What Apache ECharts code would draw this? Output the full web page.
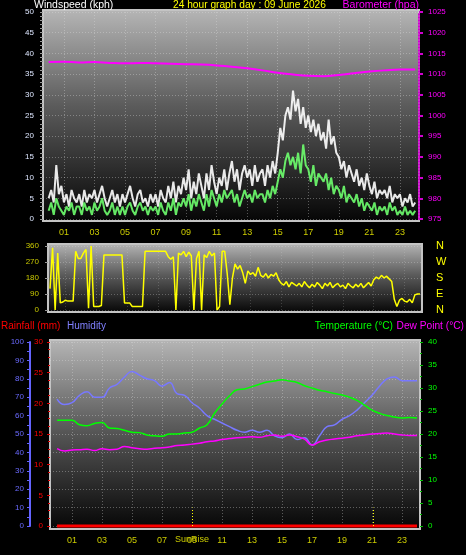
<!DOCTYPE html>
<html><head><meta charset="utf-8">
<script src="https://cdn.jsdelivr.net/npm/echarts@6/dist/echarts.min.js"></script>
<style>html,body{margin:0;padding:0;background:#000;}#c{width:466px;height:555px;}</style>
</head><body><div id="c"></div>
<script>
// ---- data ----
const hourTicks = [1,3,5,7,9,11,13,15,17,19,21,23];
const windStepsPerHour = 6;       // 10-minute samples
const gustKph = [
 5,7,4,13,6,8, 4,6,3,7,5,4, 6,3,7,4,6,5, 7,4,6,8,5,3, 5,7,4,6,3,6, 4,6,8,5,3,6,
 7,4,5,3,6,4, 6,3,7,5,4,8, 5,9,4,8,6,10, 7,12,5,9,6,11, 8,5,11,7,13,9, 6,10,8,12,7,11,
 14,9,12,7,11,13, 10,12,8,13,9,11, 12,8,13,10,14,11, 16,22,19,25,27,24, 31,26,29,23,27,22, 25,21,24,20,23,19,
 21,17,24,18,20,16, 15,12,14,10,13,11, 9,12,8,10,7,11, 8,6,9,5,7,6, 7,5,8,4,6,5, 6,3,5,4,6,3, 4];
const avgKph = [
 2,4,1,5,3,2, 1,3,2,4,1,3, 3,1,4,2,3,1, 4,2,3,5,2,1, 2,4,1,3,1,3, 1,3,4,2,1,3,
 4,2,3,1,3,2, 3,1,4,2,1,4, 2,5,1,4,3,5, 3,6,2,5,3,6, 4,2,6,3,7,5, 3,6,4,7,5,6,
 7,4,6,3,5,7, 5,6,4,7,5,6, 6,4,7,5,8,6, 9,12,10,14,16,13, 15,12,16,11,18,13, 12,9,13,8,11,10,
 9,11,7,10,6,8, 7,5,8,4,6,5, 4,6,3,5,2,4, 3,2,4,1,3,2, 3,1,4,2,3,1, 2,1,3,1,2,1, 2];
const baroHpa = [1012.9,1013.0,1012.8,1012.9,1012.7,1012.6,1012.7,1012.6,1012.5,1012.4,1012.3,1012.1,
 1011.8,1011.4,1010.9,1010.3,1009.9,1009.6,1009.5,1009.8,1010.2,1010.6,1010.9,1011.1,1011.1];
const windDirDeg = [
 120,350,0,320,40,45, 55,50,50,50,330,290, 290,320,340,10,360,20, 20,20,25,310,310,310,
 310,310,310,310,310,40, 40,40,20,20,20,20, 20,330,330,330,330,330, 330,330,330,330,300,285,
 300,0,320,310,330,300, 325,305,0,290,330,0, 310,295,330,305,320,0, 20,330,330,200,30,180,
 260,230,250,210,150,220, 200,210,190,240,195,185, 205,180,200,190,210,170, 150,140,160,130,155,145,
 135,150,130,160,140,125, 145,130,155,140,120,150, 135,155,125,140,150,130, 140,120,150,135,125,145,
 130,150,125,140,155,135, 170,185,175,195,180,190, 175,160,60,20,55,65, 50,45,60,40,85,90, 90];
const climateStepsPerHour = 2;    // half-hour samples
const humidityPct = [69,66,67,71,73,70,70,75,77,81,84,82,80,79,76,78,72,71,67,64,60,58,56,54,52,51,52,51,
 52,49,48,50,47,48,44,49,54,55,58,60,63,67,71,76,80,81,79,79,79];
const temperatureC = [23,23,23,22,21.8,22.3,22.5,21.3,21.2,20.8,20.4,20.3,19.8,19.6,19.5,20,20,20.2,20.4,21.3,
 22,24.5,26.5,28.3,29.6,29.8,30.3,30.8,31.3,31.5,31.8,31.5,31.2,30.5,30,29.5,29.2,28.8,28.5,28,27.3,26.3,
 25.2,24.5,24,23.7,23.5,23.6,23.5];
const dewPointC = [16.8,16.3,16.5,16.6,16.7,16.4,16.8,16.6,16.7,17.3,17,16.8,16.7,16.9,17,17.2,17.5,17.6,17.8,18,
 18.3,18.5,18.8,19,19.2,19.3,19.4,19.3,19.6,19.8,19.5,19.8,19.4,18.9,17.6,18.3,18.7,18.9,19.1,19.3,19.6,19.8,
 20,20.1,20.2,20,19.8,19.7,19.7];
const rainfallMm = [0,0,0,0,0,0,0,0,0,0,0,0,0,0,0,0,0,0,0,0,0,0,0,0,0];
const sunriseHour = 9.0, sunsetHour = 21.1;
const compassLabels = {0:'N',90:'E',180:'S',270:'W',360:'N'};

// ---- build ----
const pad2 = v => (v < 10 ? '0' : '') + v;
const plain = v => String(v);
const toPts = (arr, step) => arr.map((v, i) => [i / step, v]);
const FONT = 'Liberation Sans, Arial, sans-serif';
const dotted = c => ({ show: true, lineStyle: { color: c, type: [1, 2], width: 1 } });
const bgGrad = () => new echarts.graphic.LinearGradient(0, 0, 0, 1, [
  {offset: 0, color: '#b6b6b6'}, {offset: 0.45, color: '#5c5c5c'}, {offset: 1, color: '#050505'}]);
const panel = (x, y, w, h) => ({ type: 'rect', z: -10, shape: {x, y, width: w, height: h},
  style: { fill: bgGrad(), stroke: '#c4c4c4', lineWidth: 2 } });

const chart = echarts.init(document.getElementById('c'), null, {renderer: 'canvas'});
const ttl = (text, pos, top, color, size) => Object.assign({ text, top, padding: 0,
  textStyle: { color, fontSize: size, fontWeight: 'normal', fontFamily: FONT } }, pos);

chart.setOption({
  backgroundColor: '#000',
  animation: false,
  textStyle: { fontFamily: FONT },
  title: [
    ttl('Windspeed (kph)', {left: 34}, 0, '#ffffff', 10.5),
    ttl('24 hour graph day : 09 June 2026', {left: 173}, 0, '#ffff00', 10.2),
    ttl('Barometer (hpa)', {right: 47}, 0, '#ff00ff', 10.5),
    ttl('Rainfall (mm)', {left: 1}, 321, '#ff0000', 10),
    ttl('Humidity', {left: 67}, 321, '#8080ff', 10),
    ttl('Temperature (°C)', {right: 73}, 321, '#00ff00', 10.2),
    ttl('Dew Point (°C)', {right: 2}, 321, '#ff00ff', 10.2)
  ],
  graphic: [ panel(43, 10, 376, 211), panel(48, 244, 374, 68), panel(50, 340, 370, 189) ],
  grid: [
    { left: 43, top: 12, width: 376, height: 207 },
    { left: 48, top: 246, width: 374, height: 64 },
    { left: 50, top: 342, width: 370, height: 184 }
  ],
  xAxis: [
    { gridIndex: 0, type: 'value', min: -0.37, max: 24.25,
      axisLine: {show: false, onZero: false}, axisTick: {show: false, customValues: hourTicks},
      axisLabel: {customValues: hourTicks, formatter: pad2, color: '#cccc00', fontSize: 9, margin: 9},
      splitLine: dotted('rgba(225,225,225,0.35)') },
    { gridIndex: 1, type: 'value', min: -0.13, max: 24.13,
      axisLine: {show: false, onZero: false}, axisTick: {show: false, customValues: hourTicks},
      axisLabel: {show: false}, splitLine: dotted('rgba(225,225,225,0.2)') },
    { gridIndex: 2, type: 'value', min: -0.47, max: 24.2,
      axisLine: {show: false, onZero: false}, axisTick: {show: false, customValues: hourTicks},
      axisLabel: {customValues: hourTicks, formatter: pad2, color: '#cccc00', fontSize: 9, margin: 10},
      splitLine: dotted('rgba(225,225,225,0.35)') }
  ],
  yAxis: [
    { gridIndex: 0, type: 'value', min: 0, max: 50, interval: 5, position: 'left',
      axisLine: {show: false, onZero: false}, axisTick: {show: true, length: 3, lineStyle: {color: '#999'}},
      minorTick: {show: true, splitNumber: 5, length: 3, lineStyle: {color: '#999'}},
      axisLabel: {color: '#dde6ff', fontSize: 8, margin: 9},
      splitLine: dotted('rgba(225,225,225,0.35)') },
    { gridIndex: 0, type: 'value', min: 975, max: 1025, interval: 5, position: 'right',
      axisLine: {show: true, onZero: false, lineStyle: {color: '#d000d0', width: 2, type: [1, 2]}},
      axisTick: {show: true, length: 4, lineStyle: {color: '#d000d0', width: 2}},
      axisLabel: {color: '#ff00ff', fontSize: 8, margin: 9, formatter: plain}, splitLine: {show: false} },
    { gridIndex: 1, type: 'value', min: 0, max: 360, interval: 90, position: 'left',
      axisLine: {show: false, onZero: false}, axisTick: {show: true, length: 3, lineStyle: {color: '#999'}},
      axisLabel: {color: '#c8c800', fontSize: 8, margin: 9},
      splitLine: dotted('rgba(225,225,225,0.3)') },
    { gridIndex: 1, type: 'value', min: 0, max: 360, interval: 90, position: 'right',
      axisLine: {show: false, onZero: false}, axisTick: {show: false},
      axisLabel: {color: '#ffff00', fontSize: 11, margin: 14, formatter: v => compassLabels[v]},
      splitLine: {show: false} },
    { gridIndex: 2, type: 'value', min: 0, max: 100, interval: 10, position: 'left', offset: 20,
      axisLine: {show: true, onZero: false, lineStyle: {color: '#6464ff', width: 2}},
      axisTick: {show: true, length: 3, lineStyle: {color: '#6464ff'}},
      minorTick: {show: true, splitNumber: 2, length: 3, lineStyle: {color: '#6464ff'}},
      axisLabel: {color: '#6a6aff', fontSize: 8, margin: 6},
      splitLine: dotted('rgba(225,225,225,0.35)') },
    { gridIndex: 2, type: 'value', min: 0, max: 30, interval: 5, position: 'left',
      axisLine: {show: false, onZero: false}, axisTick: {show: true, length: 3, lineStyle: {color: '#e00000'}},
      minorTick: {show: true, splitNumber: 4, length: 2, lineStyle: {color: '#e00000'}},
      axisLabel: {color: '#ff0000', fontSize: 8, margin: 7}, splitLine: {show: false} },
    { gridIndex: 2, type: 'value', min: 0, max: 40, interval: 5, position: 'right',
      axisLine: {show: false, onZero: false}, axisTick: {show: true, length: 3, lineStyle: {color: '#00c000'}},
      minorTick: {show: true, splitNumber: 2, length: 2, lineStyle: {color: '#00c000'}},
      axisLabel: {color: '#00ff00', fontSize: 8, margin: 8}, splitLine: {show: false} }
  ],
  series: [
    { name: 'Gust', type: 'line', xAxisIndex: 0, yAxisIndex: 0, showSymbol: false,
      data: toPts(gustKph, windStepsPerHour), lineStyle: {color: 'rgba(255,255,255,0.9)', width: 2} },
    { name: 'Average', type: 'line', xAxisIndex: 0, yAxisIndex: 0, showSymbol: false,
      data: toPts(avgKph, windStepsPerHour), lineStyle: {color: 'rgba(110,255,110,0.9)', width: 2} },
    { name: 'Barometer', type: 'line', xAxisIndex: 0, yAxisIndex: 1, showSymbol: false, smooth: true,
      data: toPts(baroHpa, 1), lineStyle: {color: '#ff00ff', width: 2} },
    { name: 'Direction', type: 'line', xAxisIndex: 1, yAxisIndex: 2, showSymbol: false,
      data: toPts(windDirDeg, windStepsPerHour), lineStyle: {color: '#ffff00', width: 1.5} },
    { name: 'Humidity', type: 'line', xAxisIndex: 2, yAxisIndex: 4, showSymbol: false, smooth: true,
      data: toPts(humidityPct, climateStepsPerHour), lineStyle: {color: '#7878ff', width: 1.5} },
    { name: 'Temperature', type: 'line', xAxisIndex: 2, yAxisIndex: 6, showSymbol: false, smooth: true,
      data: toPts(temperatureC, climateStepsPerHour), lineStyle: {color: '#00ff00', width: 1.5} },
    { name: 'Dew Point', type: 'line', xAxisIndex: 2, yAxisIndex: 6, showSymbol: false, smooth: true,
      data: toPts(dewPointC, climateStepsPerHour), lineStyle: {color: '#ff00ff', width: 1.5} },
    { name: 'Rainfall', type: 'line', xAxisIndex: 2, yAxisIndex: 5, showSymbol: false, clip: false,
      data: toPts(rainfallMm, 1), lineStyle: {color: '#ff0000', width: 3},
      markLine: { symbol: 'none', silent: true,
        lineStyle: {color: '#ffff00', type: [1, 2], width: 1},
        label: {show: false},
        data: [
          [{coord: [sunriseHour, 0], label: {show: true, position: 'start', formatter: 'SunRise',
             color: '#cccc00', fontSize: 9, distance: 9}}, {coord: [sunriseHour, 3]}],
          [{coord: [sunsetHour, 0]}, {coord: [sunsetHour, 3]}]
        ] } }
  ]
});
</script>
</body></html>
